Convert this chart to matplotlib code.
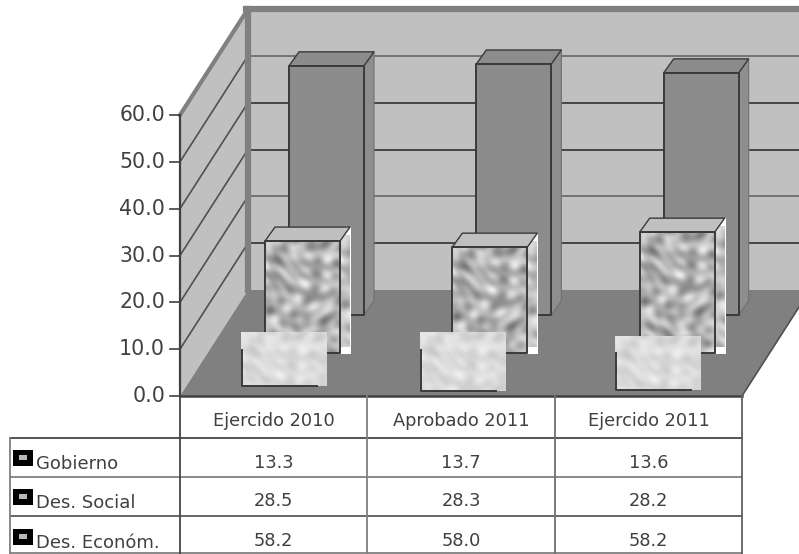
import numpy as np
import matplotlib
matplotlib.use("Agg")
import matplotlib.pyplot as plt
from matplotlib.patches import Polygon, Rectangle
from matplotlib.transforms import Affine2D

# table values
categories = ["Ejercido 2010", "Aprobado 2011", "Ejercido 2011"]
series_names = ["Gobierno", "Des. Social", "Des. Económ."]
gobierno = [13.3, 13.7, 13.6]
des_social = [28.5, 28.3, 28.2]
des_econom = [58.2, 58.0, 58.2]
y_ticks = [0, 10, 20, 30, 40, 50, 60]

# bar heights as they are drawn in the picture (read against the axis)
h_gobierno = [7.7, 8.8, 7.9]
h_social = [23.9, 22.6, 25.8]
h_econom = [53.2, 53.6, 51.7]

W, H = 799, 554
x0, x1 = 180, 742   # front of the floor in pixels
y0, y60 = 396, 115
px_x = (x1 - x0) / 3
px_y = (y0 - y60) / 60

fig = plt.figure(figsize=(W / 100, H / 100), dpi=100)
ax = fig.add_axes([0, 0, 1, 1])
ax.set_xlim(-x0 / px_x, (W - x0) / px_x)
ax.set_ylim(-(H - y0) / px_y, y0 / px_y)
ax.axis("off")

# pixel transform for the table below the chart
pix = Affine2D().scale(1, -1).translate(0, H)

txt = "#404040"
dark = "#3a3a3a"
wall = "#c0c0c0"
floor = "#808080"
edge = "#808080"

# wall depth in axis units
dep_x = 68 / px_x
dep_y = 106 / px_y
nx = 3


def poly(pts, fc, ec="none", lw=0, z=1):
    p = Polygon(pts, closed=True, fc=fc, ec=ec, lw=lw, zorder=z, joinstyle="round")
    ax.add_patch(p)
    return p


# walls and floor
poly([(dep_x, dep_y), (5, dep_y), (5, 60 + dep_y), (dep_x, 60 + dep_y)], wall, z=1)
poly([(0, 0), (dep_x, dep_y), (dep_x, 60 + dep_y), (0, 60)], wall, z=1)
poly([(0, 0), (nx, 0), (nx + dep_x, dep_y), (dep_x, dep_y)], floor, z=2)

# grid lines on back and side wall
for t in y_ticks[1:-1]:
    col = "#3c3c3c" if t in (10, 30, 40) else "#6e6e6e"
    ax.plot([dep_x, 5], [t + dep_y, t + dep_y], color=col, lw=1.3, zorder=2)
    ax.plot([0, dep_x], [t, t + dep_y], color="#505050", lw=1.2, zorder=2)
ax.plot([dep_x, dep_x], [dep_y, 60 + dep_y], color=edge, lw=4.5, zorder=3)
ax.plot([dep_x - 0.012, 5], [60 + dep_y, 60 + dep_y], color=edge, lw=4.5, zorder=3)
ax.plot([0, dep_x], [60, 60 + dep_y], color=edge, lw=3, zorder=3)
ax.plot([nx, nx + dep_x], [0, dep_y], color="#505050", lw=1.2, zorder=3)

# front axis
ax.plot([0, 0], [0, 60], color="#404040", lw=1.6, zorder=4)
ax.plot([0, nx], [0, 0], color="#404040", lw=1.8, zorder=4)
for t in y_ticks:
    ax.plot([-10 / px_x, 0], [t, t], color="#404040", lw=1.2, zorder=4)
    ax.text(-15 / px_x, t, "%.1f" % t, ha="right", va="center", fontsize=14.8,
            color=txt, zorder=5)


def mottled(x, y, dark_amt, base):
    # soft blotches, waves with unrelated directions so no pattern shows
    wx = x + 6 * np.sin(y * 0.083 + 0.6)
    wy = y + 5 * np.sin(x * 0.071 + 1.9)
    v = (np.sin(wx * 0.193 + wy * 0.061)
         + np.sin(wy * 0.237 - wx * 0.047 + 1.3)
         + 0.8 * np.sin(wx * 0.311 + wy * 0.173 + 2.9)
         + 0.8 * np.sin(wx * 0.127 - wy * 0.349 + 4.2)
         + 0.5 * np.sin(wx * 0.457 - wy * 0.229 + 0.8)
         + 0.5 * np.sin(wx * 0.083 + wy * 0.503 + 5.3))
    return np.clip(base + dark_amt * v, 0, 1)


def texture(xa, xb, ya, yb, dark_amt, base, z):
    nxp = max(int((xb - xa) * px_x), 4)
    nyp = max(int((yb - ya) * px_y), 4)
    gx, gy = np.meshgrid(np.arange(nxp), np.arange(nyp))
    return ax.imshow(mottled(gx, gy, dark_amt, base), cmap="gray", vmin=0, vmax=1,
                     extent=(xa, xb, ya, yb), origin="upper", aspect="auto",
                     interpolation="bilinear", zorder=z)


bar_w = 75 / px_x
side_x = 10 / px_x
side_y = 14 / px_y

# econ bars, back row
for i, h in enumerate(h_econom):
    b = 81 / px_y
    left = i + 109 / px_x
    right = left + bar_w
    poly([(right, b), (right + side_x, b + side_y), (right + side_x, b + h + side_y), (right, b + h)],
         "#8e8e8e", "#707070", 0.8, 10)
    poly([(left, b + h), (right, b + h), (right + side_x, b + h + side_y), (left + side_x, b + h + side_y)],
         "#8c8c8c", dark, 1.0, 10)
    poly([(left, b), (right, b), (right, b + h), (left, b + h)], "#8c8c8c", dark, 1.4, 11)

# social bars, middle row
for i, h in enumerate(h_social):
    b = 43 / px_y
    left = i + 85 / px_x
    right = left + bar_w
    # white corners around the textured side
    ax.add_patch(Rectangle((right, b - 1 / px_y), side_x + 1 / px_x, h + side_y + 1 / px_y,
                           fc="white", ec="none", zorder=12))
    texture(right, right + side_x, b + side_y * 0.4, b + h + side_y * 0.4, 0.05, 0.76, 13)
    poly([(left, b + h), (right, b + h), (right + side_x, b + h + side_y), (left + side_x, b + h + side_y)],
         wall, dark, 1.0, 14)
    texture(left, right, b, b + h, 0.06, 0.70, 13)
    poly([(left, b), (right, b), (right, b + h), (left, b + h)], "none", dark, 1.4, 14)

# gobierno bars, front row
gob_left = [62, 54, 61]
gob_base = [10, 5, 6]
for i, h in enumerate(h_gobierno):
    b = gob_base[i] / px_y
    left = i + gob_left[i] / px_x
    right = left + bar_w
    texture(left - 1 / px_x, right + side_x, b, b + h + side_y + 3 / px_y, 0.02, 0.86, 15)
    ax.plot([left, left, right], [b + h, b, b], color=dark, lw=1.4, zorder=16)

# table grid
tab_x = [10, 180, 367, 555, 742]
tab_y = [396, 438, 477, 516, 553]
row_col = ["#454545", "#808080", "#5c5c5c", "#808080"]
col_col = ["#808080", "#454545", "#808080", "#707070", "#606060"]
for k, yy in enumerate(tab_y[1:]):
    ax.plot([tab_x[0], tab_x[-1]], [yy, yy], color=row_col[k],
            lw=1.3, transform=pix, clip_on=False, zorder=4)
for k, xx in enumerate(tab_x):
    top = tab_y[1] if k == 0 else tab_y[0]
    ax.plot([xx, xx], [top, H], color=col_col[k], lw=1.3, transform=pix, zorder=4)

# table text
for j, name in enumerate(categories):
    cx = (tab_x[j + 1] + tab_x[j + 2]) / 2
    ax.text(cx, 420.5, name, ha="center", va="center", fontsize=12.8, color=txt, transform=pix)
    rows = [gobierno[j], des_social[j], des_econom[j]]
    for r, v in enumerate(rows):
        ax.text(cx, [462.5, 500.5, 540.5][r], "%.1f" % v, ha="center", va="center", fontsize=12.8,
                color=txt, transform=pix)

# legend keys and series names
for r, name in enumerate(series_names):
    ky = [450, 489, 529][r]
    ax.add_patch(Rectangle((13, ky), 20, 16, fc="black", ec="none", transform=pix, zorder=6))
    ax.add_patch(Rectangle((19, ky + 5), 8, 5, fc="#b8b8b8", ec="none", transform=pix, zorder=7))
    ax.text(36, ky + 14, name, ha="left", va="center", fontsize=13, color=txt, transform=pix)

fig.savefig("out.png", dpi=100)
